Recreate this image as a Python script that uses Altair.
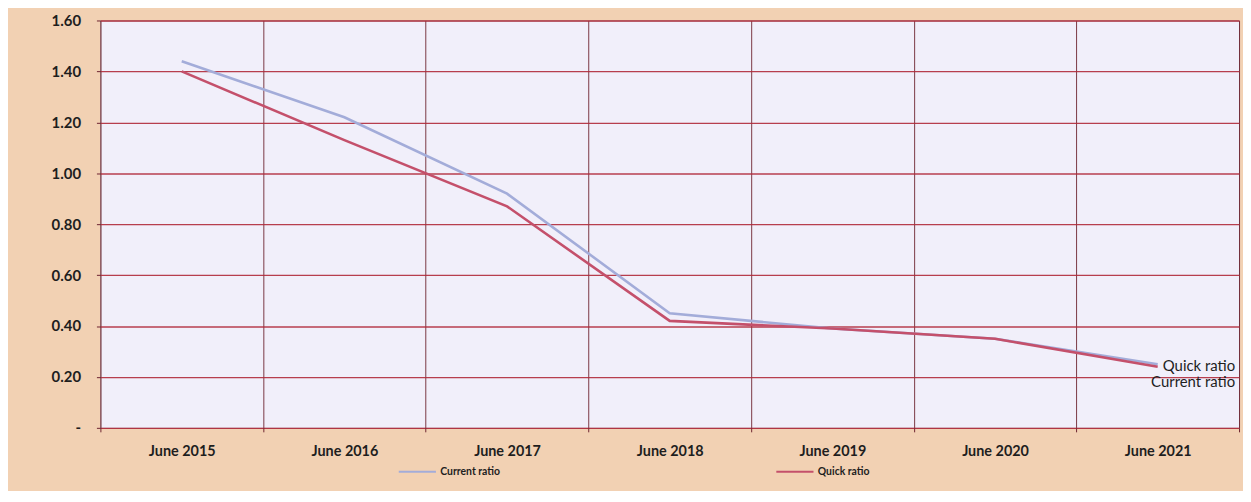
import altair as alt
import pandas as pd

years = ["June 2015", "June 2016", "June 2017", "June 2018", "June 2019", "June 2020", "June 2021"]
current_ratio = [1.44, 1.22, 0.92, 0.45, 0.39, 0.35, 0.25]
quick_ratio = [1.40, 1.13, 0.87, 0.42, 0.39, 0.35, 0.24]
series = ["Current ratio", "Quick ratio"]
colors = ["#a3acd9", "#c4506b"]

rows = []
for name, vals in zip(series, [current_ratio, quick_ratio]):
    for y, v in zip(years, vals):
        rows.append({"year": y, "value": v, "series": name})
df = pd.DataFrame(rows)

x_enc = alt.X("year:N", sort=years, title=None,
              scale=alt.Scale(paddingInner=0, paddingOuter=0),
              axis=alt.Axis(labelAngle=0, bandPosition=0, tickBand="extent", grid=True,
                            gridColor="#6e2430", gridOpacity=0.9, tickColor="#6e2430",
                            tickSize=4, labelPadding=13, domain=False,
                            labelFont="Lato", labelFontWeight="bold", labelFontSize=14.5,
                            labelColor="#1e1e1e"))
y_enc = alt.Y("value:Q", title=None,
              scale=alt.Scale(domain=[0, 1.6], nice=False),
              axis=alt.Axis(values=[0, 0.2, 0.4, 0.6, 0.8, 1.0, 1.2, 1.4, 1.6],
                            labelExpr="datum.value == 0 ? '-' : format(datum.value, '.2f')",
                            grid=True, gridColor="#b02a3a", gridOpacity=0.9, gridWidth=1.3,
                            tickColor="#6e2430", tickSize=4, labelPadding=16, domain=False,
                            labelFont="Lato", labelFontWeight="bold", labelFontSize=15,
                            labelColor="#1e1e1e"))

color_enc = alt.Color("series:N", sort=series,
                      scale=alt.Scale(domain=series, range=colors),
                      legend=alt.Legend(title=None, orient="none", direction="horizontal",
                                        legendX=299, legendY=434,
                                        symbolType="stroke", symbolSize=1400,
                                        symbolStrokeWidth=2, columnPadding=273,
                                        labelFont="Lato", labelFontWeight="bold",
                                        labelFontSize=10.5, labelColor="#1e1e1e",
                                        labelOffset=3))

lines = alt.Chart(df).mark_line(strokeWidth=2.6).encode(x=x_enc, y=y_enc, color=color_enc)

last = df[df["year"] == years[-1]]
quick_lbl = alt.Chart(last[last["series"] == "Quick ratio"]).mark_text(
    align="right", baseline="middle", dx=78, dy=-1, font="Lato", fontSize=15, color="#1e1e1e"
).encode(x=alt.X("year:N", sort=years), y="value:Q", text="series:N")
current_lbl = alt.Chart(last[last["series"] == "Current ratio"]).mark_text(
    align="right", baseline="middle", dx=78, dy=18, font="Lato", fontSize=15, color="#1e1e1e"
).encode(x=alt.X("year:N", sort=years), y="value:Q", text="series:N")

chart = alt.layer(lines, quick_lbl, current_lbl).properties(
    width=1146, height=410,
    background="#f2d1b3",
    autosize=alt.AutoSizeParams(type="none"),
    padding={"left": 93, "top": 11, "right": 4, "bottom": 62},
).configure_view(fill="#f1effa", stroke="#9a8a90", strokeWidth=1)

chart.save("out.html", embed_options={"renderer": "svg", "actions": False})
